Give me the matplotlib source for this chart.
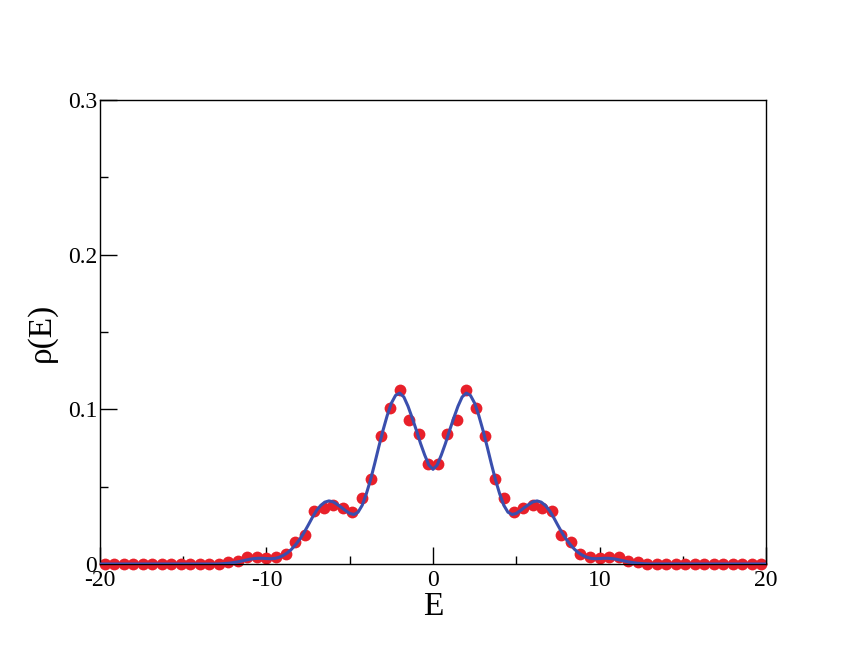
import numpy as np
import matplotlib
matplotlib.use("Agg")
import matplotlib.pyplot as plt
from matplotlib.ticker import MultipleLocator

plt.rcParams["font.family"] = ["Liberation Serif", "DejaVu Serif"]
plt.rcParams["axes.unicode_minus"] = False

# histogram points (bin centres, 70 bins over [-20, 20])
dot_E = [
    -19.714, -19.143, -18.571, -18.000, -17.429, -16.857, -16.286, -15.714, -15.143, -14.571,
    -14.000, -13.429, -12.857, -12.286, -11.714, -11.143, -10.571, -10.000, -9.429, -8.857,
    -8.286, -7.714, -7.143, -6.571, -6.000, -5.429, -4.857, -4.286, -3.714, -3.143,
    -2.571, -2.000, -1.429, -0.857, -0.286, 0.286, 0.857, 1.429, 2.000, 2.571,
    3.143, 3.714, 4.286, 4.857, 5.429, 6.000, 6.571, 7.143, 7.714, 8.286,
    8.857, 9.429, 10.000, 10.571, 11.143, 11.714, 12.286, 12.857, 13.429, 14.000,
    14.571, 15.143, 15.714, 16.286, 16.857, 17.429, 18.000, 18.571, 19.143, 19.714,
]
dot_rho = [
    0.0, 0.0, 0.0, 0.0, 0.0, 0.0, 0.0, 0.0, 0.0, 0.0,
    0.0, 0.0, 0.0, 0.0015, 0.0020, 0.0047, 0.0047, 0.0040, 0.0047, 0.0065,
    0.0142, 0.0188, 0.0345, 0.0365, 0.0381, 0.0360, 0.0338, 0.0425, 0.0547, 0.0827,
    0.1006, 0.1125, 0.0931, 0.0840, 0.0646, 0.0646, 0.0840, 0.0931, 0.1125, 0.1006,
    0.0827, 0.0547, 0.0425, 0.0338, 0.0360, 0.0381, 0.0365, 0.0345, 0.0188, 0.0142,
    0.0065, 0.0047, 0.0040, 0.0047, 0.0047, 0.0020, 0.0015, 0.0, 0.0, 0.0,
    0.0, 0.0, 0.0, 0.0, 0.0, 0.0, 0.0, 0.0, 0.0, 0.0,
]

# smooth density curve
curve_E = [
    -20.0, -13.0, -12.75, -12.5, -12.25, -12.0, -11.75, -11.5, -11.25, -11.0,
    -10.75, -10.5, -10.25, -10.0, -9.75, -9.5, -9.25, -9.0, -8.75, -8.5,
    -8.25, -8.0, -7.75, -7.5, -7.25, -7.0, -6.75, -6.5, -6.25, -6.0,
    -5.75, -5.5, -5.25, -5.0, -4.75, -4.5, -4.25, -4.0, -3.75, -3.5,
    -3.25, -3.0, -2.75, -2.5, -2.25, -2.0, -1.75, -1.5, -1.25, -1.0,
    -0.75, -0.5, -0.25, 0.0, 0.25, 0.5, 0.75, 1.0, 1.25, 1.5,
    1.75, 2.0, 2.25, 2.5, 2.75, 3.0, 3.25, 3.5, 3.75, 4.0,
    4.25, 4.5, 4.75, 5.0, 5.25, 5.5, 5.75, 6.0, 6.25, 6.5,
    6.75, 7.0, 7.25, 7.5, 7.75, 8.0, 8.25, 8.5, 8.75, 9.0,
    9.25, 9.5, 9.75, 10.0, 10.25, 10.5, 10.75, 11.0, 11.25, 11.5,
    11.75, 12.0, 12.25, 12.5, 12.75, 13.0, 20.0,
]
curve_rho = [
    0.0, 0.0, 0.0001, 0.0003, 0.0005, 0.0009, 0.0013, 0.0019, 0.0025, 0.0031,
    0.0035, 0.0037, 0.0037, 0.0035, 0.0034, 0.0036, 0.0043, 0.0055, 0.0072, 0.0095,
    0.0125, 0.0160, 0.0202, 0.0250, 0.0300, 0.0345, 0.0378, 0.0400, 0.0408, 0.0402,
    0.0385, 0.0366, 0.0345, 0.0327, 0.0320, 0.0335, 0.0380, 0.0455, 0.0545, 0.0650,
    0.0760, 0.0865, 0.0960, 0.1040, 0.1090, 0.1105, 0.1080, 0.1020, 0.0945, 0.0865,
    0.0780, 0.0705, 0.0640, 0.0612, 0.0640, 0.0705, 0.0780, 0.0865, 0.0945, 0.1020,
    0.1080, 0.1105, 0.1090, 0.1040, 0.0960, 0.0865, 0.0760, 0.0650, 0.0545, 0.0455,
    0.0380, 0.0335, 0.0320, 0.0327, 0.0345, 0.0366, 0.0385, 0.0402, 0.0408, 0.0400,
    0.0378, 0.0345, 0.0300, 0.0250, 0.0202, 0.0160, 0.0125, 0.0095, 0.0072, 0.0055,
    0.0043, 0.0036, 0.0034, 0.0035, 0.0037, 0.0037, 0.0035, 0.0031, 0.0025, 0.0019,
    0.0013, 0.0009, 0.0005, 0.0003, 0.0001, 0.0, 0.0,
]

fig = plt.figure(figsize=(8.61, 6.64), dpi=100)
ax = fig.add_axes([0.1161, 0.1506, 0.7736, 0.6988])

ax.plot(dot_E, dot_rho, "o", color="#e8202a", markersize=8.5, markeredgewidth=0,
        clip_on=False, zorder=2)
ax.plot(curve_E, curve_rho, "-", color="#3a4fae", linewidth=2.2, zorder=3)

ax.set_xlim(-20, 20)
ax.set_ylim(0, 0.3)
ax.xaxis.set_minor_locator(MultipleLocator(5))
ax.yaxis.set_minor_locator(MultipleLocator(0.05))
ax.set_xticks([-20, -10, 0, 10, 20])
ax.set_xticklabels(["-20", "-10", "0", "10", "20"])
ax.set_yticks([0, 0.1, 0.2, 0.3])
ax.set_yticklabels(["0", "0.1", "0.2", "0.3"])

ax.tick_params(which="major", direction="in", length=12, width=1.0,
               labelsize=17, top=False, right=False)
ax.tick_params(axis="x", which="major", pad=4)
ax.tick_params(axis="y", which="major", pad=2)
ax.tick_params(which="minor", direction="in", length=6, width=1.0,
               top=False, right=False)
for sp in ax.spines.values():
    sp.set_linewidth(1.0)

ax.set_xlabel("E", fontsize=24, labelpad=1)
ax.set_ylabel("ρ(E)", fontsize=24, labelpad=8)

fig.savefig("out.png", dpi=100)
